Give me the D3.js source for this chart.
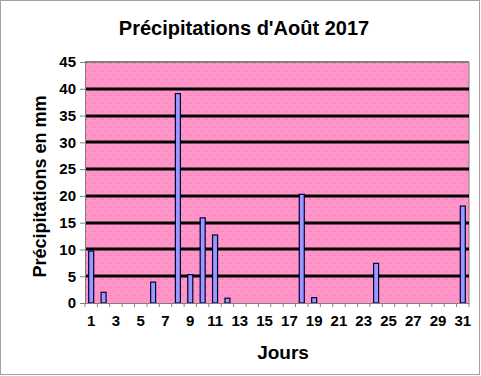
<!DOCTYPE html>
<html>
<head>
<meta charset="utf-8">
<script src="https://cdn.jsdelivr.net/npm/d3@7"></script>
<style>
  body { margin: 0; background: #fff; }
  svg { display: block; font-family: "Liberation Sans", Arial, sans-serif; }
</style>
</head>
<body>
<div id="chart"></div>
<script>
// données : pluie du mois d'août 2017 (mm)
var jours = d3.range(1, 32);
var pluie = [9.7, 2.0, 0, 0, 0, 3.9, 0, 39.1, 5.3, 15.9, 12.7, 0.9, 0, 0, 0, 0, 0,
             20.3, 1.0, 0, 0, 0, 0, 7.4, 0, 0, 0, 0, 0, 0, 18.1];
var yTicks = [0, 5, 10, 15, 20, 25, 30, 35, 40, 45];

var W = 481, H = 376;
var margin = {top: 62, right: 12, bottom: 73, left: 85},
    width = W - margin.left - margin.right,
    height = H - margin.top - margin.bottom;

var svg = d3.select("#chart").append("svg")
    .attr("width", W)
    .attr("height", H);

var defs = svg.append("defs");
var pat = defs.append("pattern")
    .attr("id", "dots")
    .attr("patternUnits", "userSpaceOnUse")
    .attr("width", 8).attr("height", 8);
pat.append("rect").attr("width", 8).attr("height", 8).attr("fill", "#ff94c9");
pat.append("rect").attr("x", 1).attr("y", 1).attr("width", 1).attr("height", 1).attr("fill", "#f0608f");
pat.append("rect").attr("x", 5).attr("y", 5).attr("width", 1).attr("height", 1).attr("fill", "#f57aa8");

// cadre pointillé
svg.append("rect")
    .attr("x", 0.5).attr("y", 0.5)
    .attr("width", W - 2).attr("height", H - 2)
    .attr("fill", "none")
    .attr("stroke", "#444")
    .attr("stroke-dasharray", "1,1");

var x = d3.scaleBand()
    .domain(jours)
    .range([0, width])
    .paddingInner(0);

var y = d3.scaleLinear()
    .domain([0, 45])
    .range([height, 0]);

var g = svg.append("g")
    .attr("transform", "translate(" + margin.left + "," + margin.top + ")");

g.append("rect")
    .attr("width", width)
    .attr("height", height)
    .attr("fill", "url(#dots)");

g.append("line")
    .attr("x1", 0).attr("x2", width)
    .attr("y1", 0).attr("y2", 0)
    .attr("stroke", "#808080")
    .attr("stroke-width", 2);
g.append("line")
    .attr("x1", width).attr("x2", width)
    .attr("y1", 0).attr("y2", height)
    .attr("stroke", "#808080")
    .attr("stroke-width", 1);

// lignes de grille
g.selectAll(".grid")
    .data(yTicks.filter(function(d) { return d > 0 && d < 45; }))
    .enter().append("line")
    .attr("class", "grid")
    .attr("x1", 0).attr("x2", width)
    .attr("y1", function(d) { return Math.round(y(d)); })
    .attr("y2", function(d) { return Math.round(y(d)); })
    .attr("stroke", "#000")
    .attr("stroke-width", 3);

var bw = 5;
var barres = jours.map(function(j, i) { return {jour: j, mm: pluie[i]}; })
    .filter(function(d) { return d.mm > 0; });

g.selectAll(".bar")
    .data(barres)
    .enter().append("rect")
    .attr("class", "bar")
    .attr("x", function(d) { return x(d.jour) + x.bandwidth() / 2 - bw / 2; })
    .attr("y", function(d) { return y(d.mm); })
    .attr("width", bw)
    .attr("height", function(d) { return height - y(d.mm); })
    .attr("fill", "#9999ff")
    .attr("stroke", "#000033")
    .attr("stroke-width", 1.2);

// axe Y
var yAxis = g.append("g")
    .call(d3.axisLeft(y).tickValues(yTicks).tickSize(5).tickPadding(4));
yAxis.select(".domain").attr("stroke", "#808080");
yAxis.selectAll(".tick line").attr("stroke", "#808080");
yAxis.selectAll("text")
    .attr("font-size", 15)
    .attr("font-weight", "bold")
    .attr("font-family", "Liberation Sans, Arial, sans-serif")
    .attr("fill", "#000");

// axe X
var xAxis = g.append("g")
    .attr("transform", "translate(0," + height + ")")
    .call(d3.axisBottom(x).tickSize(0).tickPadding(12)
        .tickFormat(function(d) { return d % 2 === 1 ? d : ""; }));
xAxis.select(".domain").attr("stroke", "#808080");
xAxis.selectAll("text")
    .attr("font-size", 15)
    .attr("font-weight", "bold")
    .attr("font-family", "Liberation Sans, Arial, sans-serif")
    .attr("fill", "#000");

g.selectAll(".xtick")
    .data(jours.concat([32]))
    .enter().append("line")
    .attr("class", "xtick")
    .attr("x1", function(d) { return d === 32 ? width : x(d); })
    .attr("x2", function(d) { return d === 32 ? width : x(d); })
    .attr("y1", height)
    .attr("y2", height + 4)
    .attr("stroke", "#808080");

// titres
svg.append("text")
    .attr("x", 244).attr("y", 35)
    .attr("text-anchor", "middle")
    .attr("font-size", 20)
    .attr("font-weight", "bold")
    .text("Précipitations d'Août 2017");

svg.append("text")
    .attr("x", 283).attr("y", 359)
    .attr("text-anchor", "middle")
    .attr("font-size", 19)
    .attr("font-weight", "bold")
    .text("Jours");

svg.append("text")
    .attr("transform", "translate(46," + (margin.top + height / 2 + 4) + ") rotate(-90)")
    .attr("text-anchor", "middle")
    .attr("font-size", 18)
    .attr("font-weight", "bold")
    .text("Précipitations en mm");
</script>
</body>
</html>
